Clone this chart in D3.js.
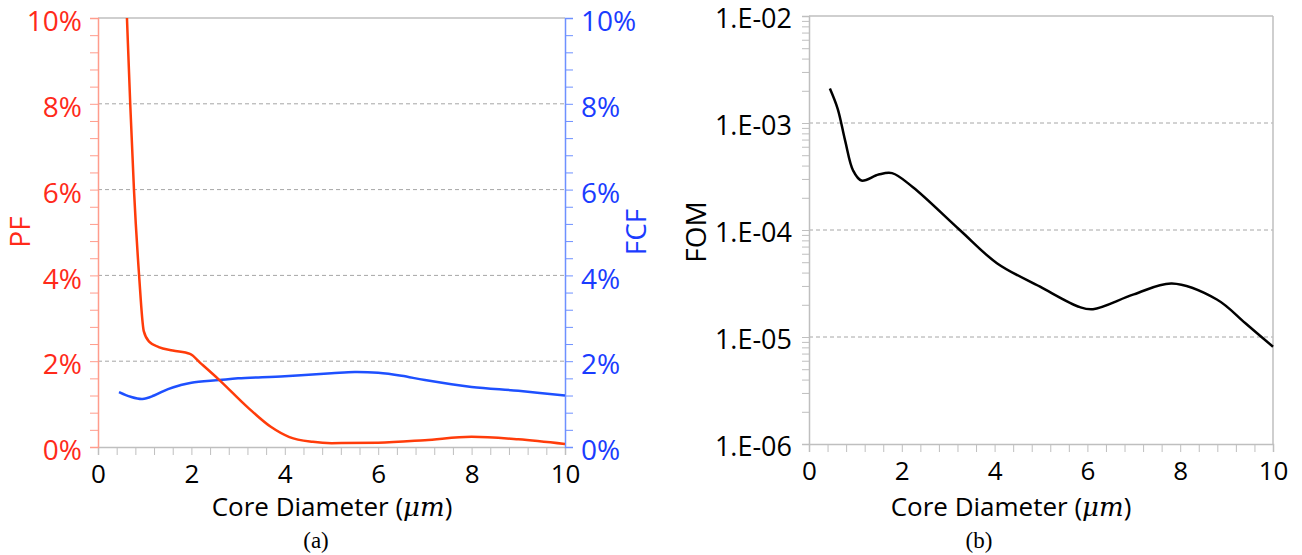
<!DOCTYPE html>
<html>
<head>
<meta charset="utf-8">
<script src="https://cdn.jsdelivr.net/npm/d3@7"></script>
<style>
  body { margin: 0; background: #fff; }
  svg text { font-family: "Open Sans", sans-serif; }
</style>
</head>
<body>
<svg id="chart" width="1302" height="555"></svg>
<script>
// core diameter (um) vs PF / FCF (%) and FOM
let pfX  = [0.5, 0.62, 0.69, 0.77, 0.88, 0.98, 1.1, 1.3, 1.6, 1.97, 2.2, 2.6, 3.2, 3.7, 4.1, 4.6, 5.0, 6, 7, 8, 9, 10];
let pfY  = [13.5, 10, 8, 6, 4, 2.7, 2.45, 2.33, 2.25, 2.17, 1.95, 1.56, 0.93, 0.47, 0.23, 0.12, 0.09, 0.1, 0.16, 0.24, 0.18, 0.07];
let fcfX = [0.45, 0.7, 0.95, 1.2, 1.5, 1.76, 2, 2.6, 3, 4, 5, 5.5, 6, 6.5, 7, 8, 9, 10];
let fcfY = [1.28, 1.17, 1.12, 1.2, 1.35, 1.44, 1.5, 1.56, 1.6, 1.65, 1.72, 1.75, 1.73, 1.66, 1.56, 1.4, 1.31, 1.2];
let fomX = [0.45, 0.62, 0.78, 0.95, 1.13, 1.5, 1.79, 2.24, 3.25, 4.05, 4.98, 5.84, 6.12, 7.0, 7.82, 8.79, 9.4, 10];
let fomY = [2.1e-3, 1.35e-3, 6.8e-4, 3.6e-4, 2.9e-4, 3.3e-4, 3.4e-4, 2.51e-4, 1.0e-4, 4.9e-5, 2.95e-5, 1.9e-5, 1.82e-5, 2.5e-5, 3.16e-5, 2.24e-5, 1.35e-5, 8.1e-6];

let xTicks = [0, 2, 4, 6, 8, 10];
let pctTicks = [0, 2, 4, 6, 8, 10];
let fomTicks = [1e-6, 1e-5, 1e-4, 1e-3, 1e-2];
let fomLabels = ["1.E-06", "1.E-05", "1.E-04", "1.E-03", "1.E-02"];

let red = "#ff3c0a", redText = "#ff2a1a", redAxis = "#ff9c8c";
let blue = "#1e50ff", blueText = "#1a3cff", blueAxis = "#6e90ff";
let gray = "#bfbfbf", gridColor = "#a6a6a6";

const svg = d3.select("#chart");

// ---------- panel (a) ----------
let a = { left: 98, right: 565, top: 18, bottom: 447 };
let xa = d3.scaleLinear().domain([0, 10]).range([a.left, a.right]);
let ya = d3.scaleLinear().domain([0, 10]).range([a.bottom, a.top]);
let minorX = d3.range(0, 10.001, 0.4).map(d => +d.toFixed(1));
let minorPct = d3.range(0, 10.001, 0.4).map(d => +d.toFixed(1));

svg.append("g")
  .selectAll("line").data(pctTicks.filter(d => d > 0 && d < 10)).join("line")
  .attr("x1", a.left).attr("x2", a.right)
  .attr("y1", d => ya(d)).attr("y2", d => ya(d))
  .attr("stroke", gridColor).attr("stroke-dasharray", "4,3");

svg.append("line").attr("x1", a.left).attr("x2", a.right).attr("y1", a.top).attr("y2", a.top)
  .attr("stroke", gray).attr("stroke-width", 1.5);

function styleAxis(g, color, fontSize, textColor) {
  g.select(".domain").attr("stroke", color).attr("stroke-width", 1.5);
  g.selectAll(".tick line").attr("stroke", color);
  g.selectAll(".tick text").attr("fill", textColor).style("font-size", fontSize + "px");
}

svg.append("g")
  .attr("transform", `translate(0,${a.bottom})`)
  .call(d3.axisBottom(xa).tickValues(minorX).tickSizeOuter(0).tickSize(8).tickPadding(10)
    .tickFormat(d => xTicks.includes(d) ? d : ""))
  .call(g => styleAxis(g, gray, 26, "#000"));

svg.append("g")
  .attr("transform", `translate(${a.left},0)`)
  .call(d3.axisLeft(ya).tickValues(minorPct).tickSizeOuter(0).tickSize(8).tickPadding(8)
    .tickFormat(d => pctTicks.includes(d) ? d + "%" : ""))
  .call(g => styleAxis(g, redAxis, 28, redText))
  .call(g => g.selectAll(".tick text").attr("dy", "0.45em"));

svg.append("g")
  .attr("transform", `translate(${a.right},0)`)
  .call(d3.axisRight(ya).tickValues(minorPct).tickSizeOuter(0).tickSize(8).tickPadding(8)
    .tickFormat(d => pctTicks.includes(d) ? d + "%" : ""))
  .call(g => styleAxis(g, blueAxis, 28, blueText))
  .call(g => g.selectAll(".tick text").attr("dy", "0.45em"));

svg.append("clipPath").attr("id", "clipA").append("rect")
  .attr("x", a.left).attr("y", a.top).attr("width", a.right - a.left).attr("height", a.bottom - a.top);

let lineRed = d3.line().x(d => xa(d[0])).y(d => ya(d[1])).curve(d3.curveMonotoneX);
let lineBlue = d3.line().x(d => xa(d[0])).y(d => ya(d[1])).curve(d3.curveCatmullRom.alpha(0.5));

svg.append("path").datum(d3.zip(fcfX, fcfY))
  .attr("d", lineBlue).attr("fill", "none").attr("stroke", blue).attr("stroke-width", 2.5)
  .attr("clip-path", "url(#clipA)");
svg.append("path").datum(d3.zip(pfX, pfY))
  .attr("d", lineRed).attr("fill", "none").attr("stroke", red).attr("stroke-width", 2.5)
  .attr("clip-path", "url(#clipA)");

svg.append("text").attr("transform", "translate(30,232) rotate(-90)")
  .attr("text-anchor", "middle").attr("fill", redText).style("font-size", "28px").text("PF");
svg.append("text").attr("transform", "translate(646,232) rotate(-90)")
  .attr("text-anchor", "middle").attr("fill", blueText).style("font-size", "28px").text("FCF");

function xTitle(cx) {
  let t = svg.append("text").attr("x", cx).attr("y", 516).attr("text-anchor", "middle")
    .style("font-size", "26px").attr("fill", "#000");
  t.append("tspan").text("Core Diameter (");
  t.append("tspan").style("font-style", "italic").style("font-family", "'DejaVu Serif', serif").text("μm");
  t.append("tspan").text(")");
}
xTitle(332);

svg.append("text").attr("x", 316).attr("y", 548).attr("text-anchor", "middle")
  .style("font-family", "'Liberation Serif', 'Times New Roman', serif").style("font-size", "23px").text("(a)");

// ---------- panel (b) ----------
let b = { left: 809, right: 1273, top: 16, bottom: 444 };
let xb = d3.scaleLinear().domain([0, 10]).range([b.left, b.right]);
let yb = d3.scaleLog().domain([1e-6, 1e-2]).range([b.bottom, b.top]);
let logMinor = [];
for (let e = -6; e < -2; e++) for (let m = 1; m <= 9; m++) logMinor.push(m * Math.pow(10, e));
logMinor.push(1e-2);

svg.append("g")
  .selectAll("line").data(fomTicks.slice(1, -1)).join("line")
  .attr("x1", b.left).attr("x2", b.right)
  .attr("y1", d => yb(d)).attr("y2", d => yb(d))
  .attr("stroke", gridColor).attr("stroke-dasharray", "4,3");

svg.append("line").attr("x1", b.left).attr("x2", b.right).attr("y1", b.top).attr("y2", b.top)
  .attr("stroke", gray).attr("stroke-width", 1.5);
svg.append("line").attr("x1", b.right).attr("x2", b.right).attr("y1", b.top).attr("y2", b.bottom)
  .attr("stroke", gray).attr("stroke-width", 1.5);

svg.append("g")
  .attr("transform", `translate(0,${b.bottom})`)
  .call(d3.axisBottom(xb).tickValues(minorX).tickSizeOuter(0).tickSize(8).tickPadding(10)
    .tickFormat(d => xTicks.includes(d) ? d : ""))
  .call(g => styleAxis(g, gray, 26, "#000"));

svg.append("g")
  .attr("transform", `translate(${b.left},0)`)
  .call(d3.axisLeft(yb).tickValues(logMinor).tickSizeOuter(0).tickSize(7).tickPadding(10)
    .tickFormat(d => {
      let i = fomTicks.findIndex(t => Math.abs(t - d) / t < 1e-9);
      return i >= 0 ? fomLabels[i] : "";
    }))
  .call(g => styleAxis(g, gray, 27, "#000"))
  .call(g => g.selectAll(".tick text").attr("dy", "0.42em"));

let lineB = d3.line().x(d => xb(d[0])).y(d => yb(d[1])).curve(d3.curveCatmullRom.alpha(0.5));
svg.append("path").datum(d3.zip(fomX, fomY))
  .attr("d", lineB).attr("fill", "none").attr("stroke", "#000").attr("stroke-width", 2.5);

svg.append("text").attr("transform", "translate(706,232) rotate(-90)")
  .attr("text-anchor", "middle").attr("fill", "#000").style("font-size", "28px").text("FOM");

xTitle(1011);

svg.append("text").attr("x", 979).attr("y", 548).attr("text-anchor", "middle")
  .style("font-family", "'Liberation Serif', 'Times New Roman', serif").style("font-size", "23px").text("(b)");
</script>
</body>
</html>
